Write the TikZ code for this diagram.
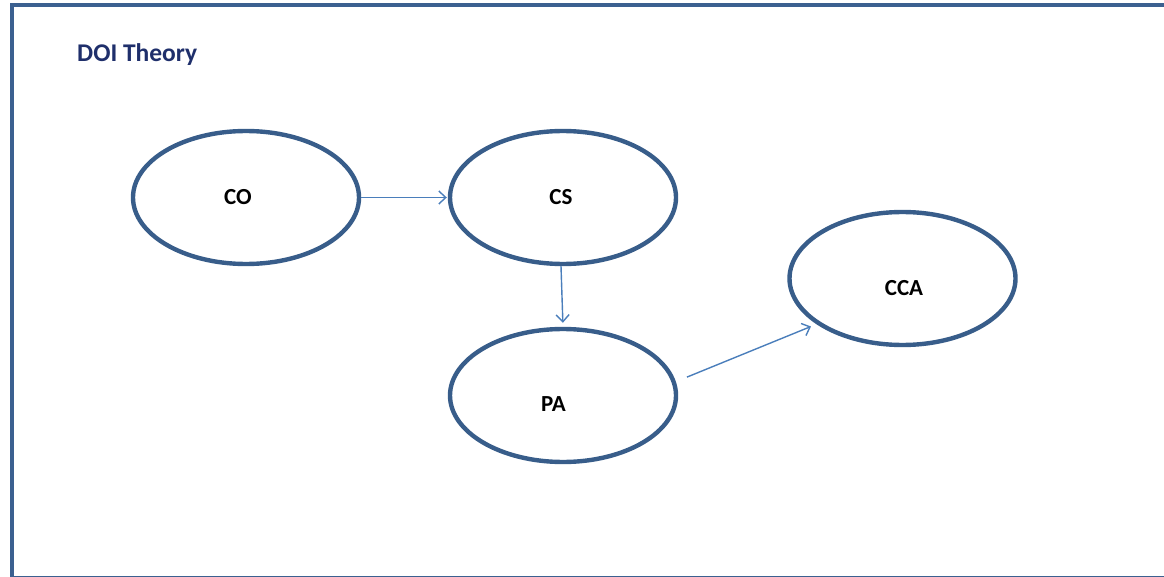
\documentclass[tikz,border=0pt]{standalone}
\usepackage{fontspec}
\setmainfont{Carlito}
\usetikzlibrary{arrows.meta,shapes.geometric}
\definecolor{frameblue}{HTML}{3B6090}
\definecolor{ellblue}{HTML}{385D8A}
\definecolor{arrblue}{HTML}{4A7EBB}
\definecolor{titleblue}{HTML}{1F2F6B}
% #1 = twice the horizontal offset, #2 = downward offset, #3 = text
\newcommand\lbl[3]{\raisebox{\dimexpr-#2-0.322em\relax}[0pt][0pt]{\makebox[0pt]{\hspace*{#1}#3}}}
\tikzset{
  oval/.style={draw=ellblue, line width=4.4pt, ellipse, minimum width=226pt, minimum height=133pt, inner sep=0pt, text height=0pt, text depth=0pt, font=\fontsize{23}{26}\selectfont\bfseries},
  conn/.style={draw=arrblue, line width=1.4pt, -{Straight Barb[length=7pt,width=13pt,line width=1.4pt]}},
}
\begin{document}
\begin{tikzpicture}[x=1pt,y=-1pt]
\useasboundingbox (0,0) rectangle (1164,577);
\begin{scope}
\clip (0,0) rectangle (1164,577);
\draw[frameblue, line width=4pt] (11.5,5.5) rectangle (1200,578);
\end{scope}
\node[anchor=base west, inner sep=0pt, text=titleblue, font=\fontsize{25.5}{30}\selectfont\bfseries] (title) at (77,62) {DOI Theory};
\node[oval] (co) at (246,197.5) {\lbl{-16pt}{0pt}{CO}};
\node[oval] (cs) at (563,197.5) {\lbl{-4pt}{0pt}{CS}};
\node[oval] (cca) at (902.5,278.5) {\lbl{3pt}{9.5pt}{CCA}};
\node[oval] (pa) at (563,395.5) {\lbl{-19pt}{8.5pt}{PA}};
\draw[conn] (co.east) -- ([xshift=-1pt]cs.west);
\draw[conn, shorten >=4pt] ([xshift=-2pt]cs.south) -- (pa.north);
\draw[conn, shorten <=12pt, shorten >=6pt] (pa.7) -- (cca.208);
\end{tikzpicture}
\end{document}
